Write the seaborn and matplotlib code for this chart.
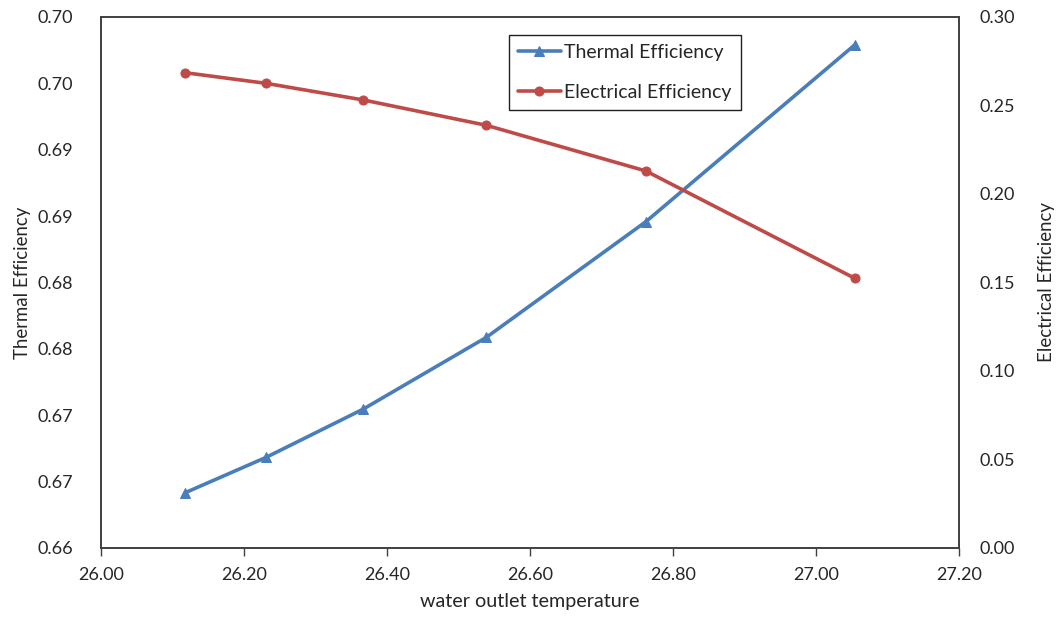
import numpy as np
import pandas as pd
import matplotlib
matplotlib.use("Agg")
import matplotlib.pyplot as plt
import seaborn as sns

# Data
water_outlet_temp = [26.118, 26.231, 26.367, 26.539, 26.762, 27.054]
thermal_eff = [0.66417, 0.66683, 0.67047, 0.67587, 0.68458, 0.69789]
electrical_eff = [0.2685, 0.2625, 0.2531, 0.2388, 0.2130, 0.1524]

x_ticks = [26.00, 26.20, 26.40, 26.60, 26.80, 27.00, 27.20]
left_ticks = [0.660, 0.665, 0.670, 0.675, 0.680, 0.685, 0.690, 0.695, 0.700]
left_tick_labels = ["0.66", "0.67", "0.67", "0.68", "0.68", "0.69", "0.69", "0.70", "0.70"]
right_ticks = [0.00, 0.05, 0.10, 0.15, 0.20, 0.25, 0.30]

sns.set_style("white")
plt.rcParams['font.family'] = ['Lato', 'DejaVu Sans']

df = pd.DataFrame({"x": water_outlet_temp, "thermal": thermal_eff, "electrical": electrical_eff})

blue = "#4A7EBB"
red = "#BE4B48"
spine_c = "#404040"
text_c = "#262626"

fig = plt.figure(figsize=(10.61, 6.24), dpi=100)
ax = fig.add_axes([0.0952, 0.1218, 0.8087, 0.851])
ax2 = ax.twinx()

sns.lineplot(data=df, x="x", y="thermal", ax=ax, color=blue, lw=2.6,
             marker="^", markersize=7, markeredgecolor=blue, label="Thermal Efficiency", legend=False)
sns.lineplot(data=df, x="x", y="electrical", ax=ax2, color=red, lw=2.6,
             marker="o", markersize=6.5, markeredgecolor=red, label="Electrical Efficiency", legend=False)

ax.set_xlim(26.0, 27.2)
ax.set_ylim(0.66, 0.70)
ax2.set_ylim(0.0, 0.30)
ax.set_xticks(x_ticks)
ax.set_xticklabels([f"{v:.2f}" for v in x_ticks])
ax.set_yticks(left_ticks)
ax.set_yticklabels(left_tick_labels)
ax2.set_yticks(right_ticks)
ax2.set_yticklabels([f"{v:.2f}" for v in right_ticks])

fs = 13
ax.tick_params(axis="x", direction="out", length=6, width=1, color=spine_c,
               labelsize=fs, labelcolor=text_c, pad=8, bottom=True)
ax.tick_params(axis="y", length=0, labelsize=fs, labelcolor=text_c, pad=20)
ax2.tick_params(axis="y", length=0, labelsize=fs, labelcolor=text_c, pad=15)

for a in (ax, ax2):
    for s in a.spines.values():
        s.set_color(spine_c)
        s.set_linewidth(1.2)
        s.set_visible(True)

ax.set_xlabel("water outlet temperature", fontsize=14.2, color=text_c, labelpad=7)
ax.set_ylabel("Thermal Efficiency", fontsize=13.4, color=text_c, labelpad=5)
ax2.set_ylabel("Electrical Efficiency", fontsize=13.4, color=text_c, labelpad=16)

h1, l1 = ax.get_legend_handles_labels()
h2, l2 = ax2.get_legend_handles_labels()
leg = ax2.legend(h1 + h2, l1 + l2, loc="upper left", bbox_to_anchor=(0.4755, 0.966),
                 frameon=True, fancybox=False, framealpha=1, edgecolor="#202020",
                 fontsize=14, handlelength=2.2, handletextpad=0.2, borderpad=0.45,
                 labelspacing=1.2, borderaxespad=0)
leg.get_frame().set_linewidth(1.0)
for t in leg.get_texts():
    t.set_color(text_c)

fig.savefig("out.png", dpi=100)
